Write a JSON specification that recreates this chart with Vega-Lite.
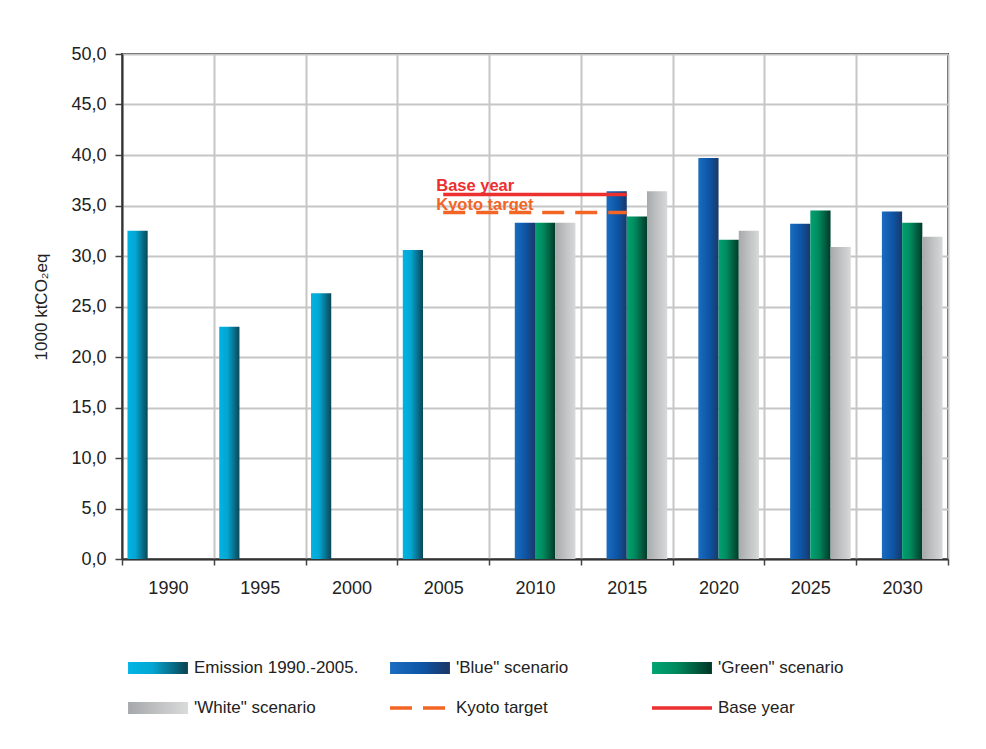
{
  "$schema": "https://vega.github.io/schema/vega-lite/v6.json",
  "width": 826,
  "height": 505,
  "autosize": "none",
  "padding": {"left": 122, "top": 54, "right": 38, "bottom": 190},
  "background": "white",
  "params": [
    {"name": "gEmission", "value": {"gradient": "linear", "x1": 0, "y1": 0, "x2": 1, "y2": 0, "stops": [{"offset": 0, "color": "#00b4e4"}, {"offset": 0.4, "color": "#04a6d2"}, {"offset": 1, "color": "#0a4656"}]}},
    {"name": "gBlue", "value": {"gradient": "linear", "x1": 0, "y1": 0, "x2": 1, "y2": 0, "stops": [{"offset": 0, "color": "#1a6cc0"}, {"offset": 0.55, "color": "#0d54a4"}, {"offset": 1, "color": "#1b3868"}]}},
    {"name": "gGreen", "value": {"gradient": "linear", "x1": 0, "y1": 0, "x2": 1, "y2": 0, "stops": [{"offset": 0, "color": "#00a271"}, {"offset": 0.4, "color": "#008a5e"}, {"offset": 1, "color": "#003a28"}]}},
    {"name": "gWhite", "value": {"gradient": "linear", "x1": 0, "y1": 0, "x2": 1, "y2": 0, "stops": [{"offset": 0, "color": "#a7aaac"}, {"offset": 1, "color": "#d8d9d9"}]}}
  ],
  "config": {
    "font": "Liberation Sans",
    "view": {"stroke": "#333333", "strokeWidth": 2},
    "axis": {
      "labelFont": "Liberation Sans",
      "labelFontSize": 18,
      "labelColor": "#222222",
      "titleFont": "Liberation Sans",
      "titleFontSize": 17,
      "titleFontWeight": "normal",
      "titleColor": "#222222",
      "domainColor": "#333333",
      "domainWidth": 2,
      "tickColor": "#444444",
      "tickWidth": 1.5,
      "gridColor": "#c6c6c6",
      "gridWidth": 2
    }
  },
  "datasets": {
    "emissions": [
      {"year": "1990", "series": "Emission 1990.-2005.", "value": 32.5},
      {"year": "1995", "series": "Emission 1990.-2005.", "value": 23.0},
      {"year": "2000", "series": "Emission 1990.-2005.", "value": 26.3},
      {"year": "2005", "series": "Emission 1990.-2005.", "value": 30.6},
      {"year": "2010", "series": "'Blue\" scenario", "value": 33.3},
      {"year": "2010", "series": "'Green\" scenario", "value": 33.3},
      {"year": "2010", "series": "'White\" scenario", "value": 33.3},
      {"year": "2015", "series": "'Blue\" scenario", "value": 36.4},
      {"year": "2015", "series": "'Green\" scenario", "value": 33.9},
      {"year": "2015", "series": "'White\" scenario", "value": 36.4},
      {"year": "2020", "series": "'Blue\" scenario", "value": 39.7},
      {"year": "2020", "series": "'Green\" scenario", "value": 31.6},
      {"year": "2020", "series": "'White\" scenario", "value": 32.5},
      {"year": "2025", "series": "'Blue\" scenario", "value": 33.2},
      {"year": "2025", "series": "'Green\" scenario", "value": 34.5},
      {"year": "2025", "series": "'White\" scenario", "value": 30.9},
      {"year": "2030", "series": "'Blue\" scenario", "value": 34.4},
      {"year": "2030", "series": "'Green\" scenario", "value": 33.3},
      {"year": "2030", "series": "'White\" scenario", "value": 31.9}
    ],
    "targets": [
      {"year": "2005", "series": "Base year", "value": 36.1, "label": "Base year"},
      {"year": "2015", "series": "Base year", "value": 36.1, "label": ""},
      {"year": "2005", "series": "Kyoto target", "value": 34.3, "label": "Kyoto target"},
      {"year": "2015", "series": "Kyoto target", "value": 34.3, "label": ""}
    ]
  },
  "encoding": {
    "x": {
      "field": "year",
      "type": "ordinal",
      "scale": {
        "domain": ["1990", "1995", "2000", "2005", "2010", "2015", "2020", "2025", "2030"],
        "paddingInner": 0,
        "paddingOuter": 0
      },
      "axis": {
        "title": null,
        "labelAngle": 0,
        "tickBand": "extent",
        "tickSize": 6,
        "labelPadding": 14,
        "grid": true
      }
    },
    "y": {
      "field": "value",
      "type": "quantitative",
      "scale": {"domain": [0, 50], "nice": false},
      "axis": {
        "title": "1000 ktCO₂eq",
        "values": [0, 5, 10, 15, 20, 25, 30, 35, 40, 45, 50],
        "labelExpr": "replace(format(datum.value, '.1f'), '.', ',')",
        "tickSize": 7,
        "labelPadding": 9,
        "titlePadding": 20,
        "grid": true
      }
    },
    "color": {
      "field": "series",
      "type": "nominal",
      "scale": {
        "domain": ["Emission 1990.-2005.", "'White\" scenario", "'Blue\" scenario", "Kyoto target", "'Green\" scenario", "Base year"],
        "range": [{"expr": "gEmission"}, {"expr": "gWhite"}, {"expr": "gBlue"}, "#f26524", {"expr": "gGreen"}, "#ec2f2f"]
      },
      "legend": {
        "orient": "none",
        "legendX": 4,
        "legendY": 604,
        "title": null,
        "columns": 3,
        "gridAlign": "all",
        "columnPadding": 29,
        "rowPadding": 20,
        "padding": 0,
        "clipHeight": 20,
        "symbolSize": 3600,
        "labelOffset": 4,
        "labelFont": "Liberation Sans",
        "labelFontSize": 17,
        "labelColor": "#222222",
        "labelLimit": 300,
        "encode": {
          "symbols": {
            "update": {
              "shape": {"signal": "datum.value === 'Kyoto target' || datum.value === 'Base year' ? 'stroke' : 'M-0.94,-0.14H0.94V0.14H-0.94Z'"},
              "strokeWidth": {"value": 3.5},
              "strokeDash": {"signal": "datum.value === 'Kyoto target' ? [22, 11] : [1, 0]"},
              "opacity": {"value": 1}
            }
          }
        }
      }
    }
  },
  "layer": [
    {
      "data": {"name": "emissions"},
      "mark": {"type": "bar"},
      "encoding": {
        "xOffset": {
          "field": "series",
          "type": "nominal",
          "scale": {
            "domain": ["Emission 1990.-2005.", "'Blue\" scenario", "'Green\" scenario", "'White\" scenario"],
            "paddingInner": 0,
            "paddingOuter": 0.27
          }
        }
      }
    },
    {
      "data": {"name": "targets"},
      "mark": {"type": "line", "strokeWidth": 3.5},
      "encoding": {
        "strokeDash": {
          "field": "series",
          "type": "nominal",
          "scale": {"domain": ["Kyoto target", "Base year"], "range": [[22, 11], [1, 0]]},
          "legend": null
        }
      }
    },
    {
      "data": {"name": "targets"},
      "transform": [{"filter": "datum.label !== ''"}],
      "mark": {
        "type": "text",
        "align": "left",
        "baseline": "alphabetic",
        "dx": -7,
        "dy": -3,
        "fontSize": 16.5,
        "fontWeight": "bold",
        "font": "Liberation Sans"
      },
      "encoding": {
        "text": {"field": "label"}
      }
    }
  ]
}
